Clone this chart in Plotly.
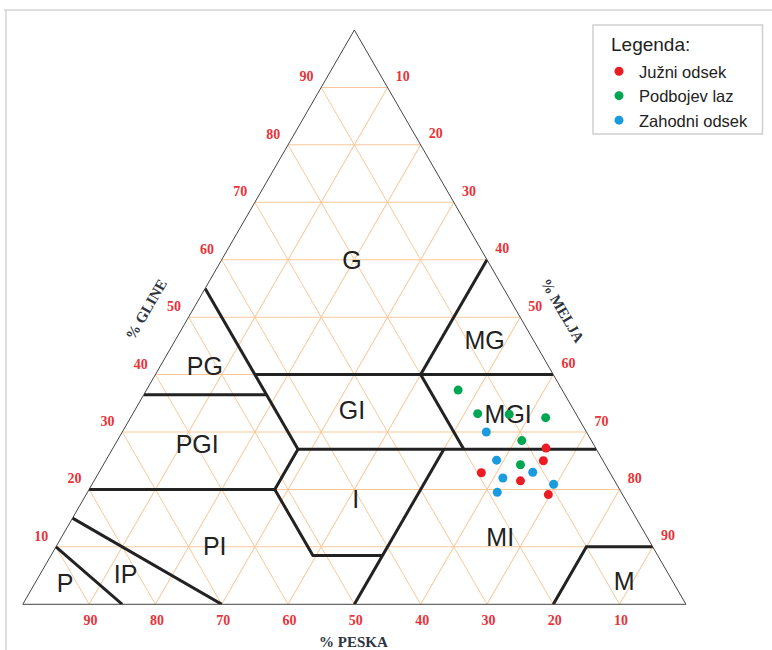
import plotly.graph_objects as go

W, H = 772, 650

# ---- sample data (% clay, % sand, % silt) ----
juzni_clay = [27.2, 25.0, 22.9, 21.5, 19.1]
juzni_sand = [7.5, 9.0, 19.4, 14.2, 11.2]
juzni_silt = [65.3, 66.0, 57.7, 64.3, 69.7]

podbojev_clay = [37.3, 33.2, 33.1, 32.5, 28.5, 24.3]
podbojev_sand = [15.7, 14.8, 10.1, 4.9, 10.5, 12.8]
podbojev_silt = [47.0, 52.0, 56.8, 62.6, 61.0, 62.9]

zahodni_clay = [30.0, 25.1, 22.0, 23.0, 20.9, 19.5]
zahodni_sand = [15.1, 16.0, 16.6, 11.6, 9.5, 18.7]
zahodni_silt = [54.9, 58.9, 61.4, 65.4, 69.6, 61.8]

series_names = ["Južni odsek", "Podbojev laz", "Zahodni odsek"]

# ---- texture class boundaries (clay, sand, silt) ----
b_sand45 = ([55, 27], [45, 45], [0, 28])
b_clay365 = ([36.5, 36.5], [63.5, 45], [0, 18.5])
b_clay40 = ([40, 40], [45, 0], [15, 60])
b_silt40 = ([40, 60], [20, 0], [40, 40])
b_sand20 = ([40, 27], [20, 20], [40, 53])
b_clay27 = ([27, 27], [45, 0], [28, 73])
b_clay20 = ([20, 20, 27], [80, 52, 45], [0, 28, 28])
b_sand52 = ([20, 8.5, 8.5], [52, 52, 41.5], [28, 39.5, 50])
b_silt50 = ([0, 27], [50, 23], [50, 50])
b_ip_pi = ([15, 0], [85, 70], [0, 30])
b_p_ip = ([10, 0], [90, 85], [0, 15])
b_silt80 = ([0, 10, 10], [20, 10, 0], [80, 80, 90])
boundaries = [b_sand45, b_clay365, b_clay40, b_silt40, b_sand20, b_clay27,
              b_clay20, b_sand52, b_silt50, b_ip_pi, b_p_ip, b_silt80]

# ---- class labels ----
class_names = ["G", "MG", "PG", "GI", "MGI", "PGI", "I", "PI", "MI", "IP", "P", "M"]
class_clay = [59.5, 45.5, 41.1, 33.3, 32.6, 27.4, 17.8, 9.7, 11.2, 4.8, 3.2, 3.6]
class_sand = [20.6, 7.6, 52.0, 33.7, 10.5, 60.0, 40.9, 66.2, 22.4, 82.1, 92.0, 7.5]
class_silt = [19.9, 46.9, 6.9, 33.0, 56.9, 12.6, 41.3, 24.1, 66.4, 13.1, 4.8, 88.9]

tick_vals = [10, 20, 30, 40, 50, 60, 70, 80, 90]
tick_text = [str(v) for v in tick_vals]

RED = "#ec1c24"
GREEN = "#00a651"
BLUE = "#1a9be0"
GRID = "#f8c89a"
TICKRED = "#e8333a"
SERIF = "Liberation Serif, Times New Roman, serif"
SANS = "Liberation Sans, Arial, sans-serif"

fig = go.Figure()

for b in boundaries:
    fig.add_trace(go.Scatterternary(
        a=b[0], b=b[1], c=b[2], mode="lines",
        line=dict(color="#222222", width=3),
        showlegend=False, hoverinfo="skip"))

fig.add_trace(go.Scatterternary(
    a=class_clay, b=class_sand, c=class_silt, mode="text", text=class_names,
    textposition="middle center",
    textfont=dict(family=SANS, size=25, color="#222222"),
    showlegend=False, hoverinfo="skip"))

for name, cl, sa, si, col in [
        (series_names[0], juzni_clay, juzni_sand, juzni_silt, RED),
        (series_names[1], podbojev_clay, podbojev_sand, podbojev_silt, GREEN),
        (series_names[2], zahodni_clay, zahodni_sand, zahodni_silt, BLUE)]:
    fig.add_trace(go.Scatterternary(
        a=cl, b=sa, c=si, mode="markers", name=name,
        marker=dict(color=col, size=9, line=dict(width=0))))


def axis(ticklen, texts):
    return dict(
        title=dict(text=""),
        tickmode="array", tickvals=tick_vals, ticktext=texts,
        tickfont=dict(family=SERIF, size=14, color=TICKRED, weight="bold"),
        ticks="outside", ticklen=ticklen, tickcolor="rgba(0,0,0,0)",
        showgrid=True, gridcolor=GRID, gridwidth=1,
        showline=True, linecolor="#444444", linewidth=1,
        layer="below traces", min=0)


# left-side labels sit a little above their grid line
tick_text_left = [t + "<br> " for t in tick_text]

fig.update_layout(
    width=W, height=H,
    margin=dict(l=0, r=0, t=0, b=0),
    paper_bgcolor="white",
    ternary=dict(
        sum=100,
        domain=dict(x=[22.7 / W, 686 / W], y=[1 - 604.3 / H, 1 - 30 / H]),
        bgcolor="white",
        aaxis=axis(5, tick_text_left), baxis=axis(3, tick_text),
        caxis=axis(11, tick_text)),
    legend=dict(
        x=599 / W, y=1 - 54 / H, xanchor="left", yanchor="top",
        bgcolor="rgba(0,0,0,0)", borderwidth=0,
        font=dict(family=SANS, size=16.5, color="#222222"),
        itemwidth=30, tracegroupgap=0),
    shapes=[
        dict(type="rect", xref="paper", yref="paper",
             x0=593 / W, x1=762.5 / W, y0=1 - 134 / H, y1=1 - 25 / H,
             line=dict(color="#cfcfcf", width=1.5)),
        dict(type="line", xref="paper", yref="paper",
             x0=4 / W, x1=1, y0=1 - 10 / H, y1=1 - 10 / H,
             line=dict(color="#d5d5d5", width=1.5)),
        dict(type="line", xref="paper", yref="paper",
             x0=6 / W, x1=6 / W, y0=0, y1=1 - 10 / H,
             line=dict(color="#d5d5d5", width=1.5)),
    ],
    annotations=[
        dict(text="Legenda:", x=609 / W, y=1 - 45 / H, xref="paper", yref="paper",
             xanchor="left", yanchor="middle", showarrow=False,
             font=dict(family=SANS, size=19, color="#222222")),
        dict(text="% GLINE", x=146 / W, y=1 - 310 / H, xref="paper", yref="paper",
             xanchor="center", yanchor="middle", showarrow=False, textangle=-60,
             font=dict(family=SERIF, size=15, color="#2e3440", weight="bold")),
        dict(text="% MELJA", x=562 / W, y=1 - 310 / H, xref="paper", yref="paper",
             xanchor="center", yanchor="middle", showarrow=False, textangle=60,
             font=dict(family=SERIF, size=15, color="#2e3440", weight="bold")),
        dict(text="% PESKA", x=353 / W, y=1 - 642 / H, xref="paper", yref="paper",
             xanchor="center", yanchor="middle", showarrow=False,
             font=dict(family=SERIF, size=15, color="#2e3440", weight="bold")),
    ],
)

fig.write_html(
    "out.html",
    config={"displayModeBar": False},
    post_script="document.body.style.margin='0';document.body.style.padding='0';")
